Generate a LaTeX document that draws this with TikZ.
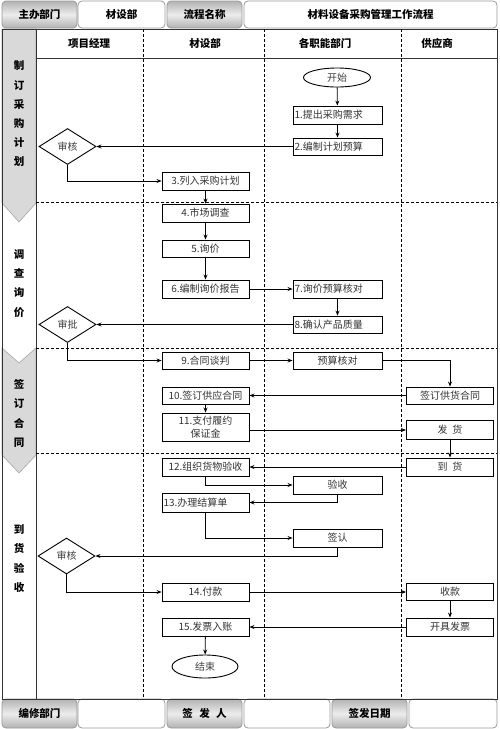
\documentclass[tikz,border=0pt]{standalone}
\usepackage{fontspec}
\setmainfont{Noto Sans CJK SC}
\usetikzlibrary{shapes.geometric,arrows.meta}
\begin{document}
\begin{tikzpicture}[x=1pt,y=-1pt,
  arr/.style={-{Stealth[length=5pt,width=4pt]}, line width=0.8pt},
  box/.style={draw, line width=0.9pt, minimum width=87pt, minimum height=18pt, text width=83pt, inner xsep=2pt, inner ysep=0pt, align=center, font=\fontsize{10}{11.5}\selectfont, text=black!80},
  boxw/.style={box, minimum width=89pt, text width=85pt},
  boxl/.style={box, align=left, inner xsep=1.5pt, text width=84pt},
  boxwl/.style={box, align=left, minimum width=89pt, inner xsep=1.5pt, text width=86pt},
  dia/.style={draw, diamond, line width=0.9pt, minimum width=57pt, minimum height=36pt, inner sep=0pt, aspect=1.6, font=\fontsize{10}{11}\selectfont, text=black!75},
  ell/.style={draw, ellipse, line width=0.9pt, inner sep=0pt, font=\fontsize{10}{11}\selectfont, text=black!75},
  dsh/.style={dash pattern=on 3pt off 2pt, line width=0.7pt},
  hcell/.style={draw=gray!80, rounded corners=4pt, line width=0.8pt, inner sep=0pt, font=\bfseries\fontsize{10.5}{12}\selectfont},
  gcell/.style={hcell, top color=gray!60, bottom color=gray!60, middle color=gray!15},
  phase/.style={fill=gray!30, draw=gray!70, line width=0.6pt},
  plabel/.style={align=center, inner sep=0pt, font=\bfseries\fontsize{10.5}{19.2}\selectfont},
  chead/.style={inner sep=0pt, font=\bfseries\fontsize{10.5}{12}\selectfont}
]
\useasboundingbox (0,0) rectangle (500,729);
\fill[white] (0,0) rectangle (500,729);

% header
\node[gcell, minimum width=75pt, minimum height=27pt] (h1) at (39.5,14.5) {主办部门};
\node[hcell, minimum width=87pt, minimum height=27pt] (h2) at (121.5,14.5) {材设部};
\node[gcell, minimum width=75pt, minimum height=27pt] (h3) at (204.5,14.5) {流程名称};
\node[hcell, minimum width=253pt, minimum height=27pt] (h4) at (370.5,14.5) {材料设备采购管理工作流程};

% footer
\node[gcell, minimum width=75pt, minimum height=29pt] (f1) at (39.5,713.5) {编修部门};
\node[hcell, minimum width=87pt, minimum height=29pt] (f2) at (121.5,713.5) {};
\node[gcell, minimum width=75pt, minimum height=29pt] (f3) at (204.5,713.5) {签\hspace{0.6em}发\hspace{0.6em}人};
\node[hcell, minimum width=86pt, minimum height=29pt] (f4) at (287,713.5) {};
\node[gcell, minimum width=75pt, minimum height=29pt] (f5) at (369.5,713.5) {签发日期};
\node[hcell, minimum width=88pt, minimum height=29pt] (f6) at (453,713.5) {};

% phase shapes
\draw[phase] (2,29) -- (36,29) -- (36,203) -- (19,222) -- (2,203) -- cycle;
\draw[phase] (2,348) -- (19,363) -- (36,348) -- (36,455) -- (19,473) -- (2,455) -- cycle;

% frame
\draw[line width=0.9pt, black!80] (2,29) rectangle (497,699);
\draw[line width=0.9pt, black!80] (36,29) -- (36,699);
\draw[line width=0.9pt, black!80] (36,58) -- (497,58);
\foreach \xx in {143,264,401} \draw[dsh] (\xx,29) -- (\xx,699);
\foreach \yy in {202,348,453} \draw[dsh] (36,\yy) -- (497,\yy);

% column headers
\node[chead] (c1) at (89,43.5) {项目经理};
\node[chead] (c2) at (205,43.5) {材设部};
\node[chead] (c3) at (325,43.5) {各职能部门};
\node[chead] (c4) at (437,43.5) {供应商};

% phase labels
\node[plabel] (p1) at (19,114) {制\\订\\采\\购\\计\\划};
\node[plabel] (p2) at (19,283.5) {调\\查\\询\\价};
\node[plabel] (p3) at (19,413.5) {签\\订\\合\\同};
\node[plabel] (p4) at (19,558.5) {到\\货\\验\\收};

% nodes
\node[ell, minimum width=67pt, minimum height=19pt] (start) at (337,77.5) {开始};
\node[boxwl] (b1) at (337.5,115) {1.提出采购需求};
\node[boxwl, minimum height=17pt] (b2) at (337.5,146.5) {2.编制计划预算};
\node[dia] (d1) at (67.5,146.5) {审核};
\node[box] (b3) at (205.5,181) {3.列入采购计划};
\node[box] (b4) at (205.5,213) {4.市场调查};
\node[box, minimum height=17pt] (b5) at (205.5,248.5) {5.询价};
\node[box] (b6) at (205.5,289) {6.编制询价报告};
\node[boxwl] (b7) at (337.5,289) {7.询价预算核对};
\node[boxwl, minimum height=17pt] (b8) at (337.5,324.5) {8.确认产品质量};
\node[dia] (d2) at (67.5,324.5) {审批};
\node[box, minimum height=17pt] (b9) at (205.5,360.5) {9.合同谈判};
\node[boxw, minimum height=17pt] (c9) at (337.5,360.5) {预算核对};
\node[box, minimum height=17pt] (s1) at (450,395.5) {签订供货合同};
\node[box, minimum height=17pt] (b10) at (205.5,395.5) {10.签订供应合同};
\node[box, minimum height=28pt, font=\fontsize{10}{13}\selectfont] (b11) at (205.5,427) {11.支付履约\\保证金};
\node[box, minimum height=19pt] (s2) at (450,430) {发\hspace{0.5em}货};
\node[box] (s3) at (450,467) {到\hspace{0.5em}货};
\node[box] (b12) at (205.5,467) {12.组织货物验收};
\node[boxw] (c12) at (337.5,485) {验收};
\node[boxl, minimum height=19pt] (b13) at (205.5,502.5) {13.办理结算单};
\node[boxw] (c13) at (337.5,538) {签认};
\node[dia] (d3) at (66.5,556) {审核};
\node[box] (b14) at (205.5,592) {14.付款};
\node[box, minimum height=17pt] (r14) at (450,592) {收款};
\node[box] (r15) at (450,627) {开具发票};
\node[box] (b15) at (205.5,627) {15.发票入账};
\node[ell, minimum width=66pt, minimum height=23pt] (end) at (205,666.5) {结束};

% connectors
\draw[arr] (start) -- (b1);
\draw[arr] (b1) -- (b2);
\draw[arr] (b2.west) -- (d1.east);
\draw[arr] (d1.south) |- (b3.west);
\draw[arr] (b3) -- (b4);
\draw[arr] (b4) -- (b5);
\draw[arr] (b5) -- (b6);
\draw[arr] (b6) -- (b7);
\draw[arr] (b7) -- (b8);
\draw[arr] (b8.west) -- (d2.east);
\draw[arr] (d2.south) |- (b9.west);
\draw[arr] (b9) -- (c9);
\draw[arr] (c9.east) -| (s1.north);
\draw[arr] (s1.west) -- (b10.east);
\draw[arr] (b10) -- (b11);
\draw[arr] (b11.east |- s2.west) -- (s2.west);
\draw[arr] (s2) -- (s3);
\draw[arr] (s3.west) -- (b12.east);
\draw[arr] (b12.south) |- (c12.west);
\draw[arr] (c12.south) |- (b13.east);
\draw[arr] (b13.south) |- (c13.west);
\draw[arr] (c13.south) |- (d3.east);
\draw[arr] (d3.south) |- (b14.west);
\draw[arr] (b14) -- (r14);
\draw[arr] (r14) -- (r15);
\draw[arr] (r15) -- (b15);
\draw[arr] (b15) -- (end);
\end{tikzpicture}
\end{document}
